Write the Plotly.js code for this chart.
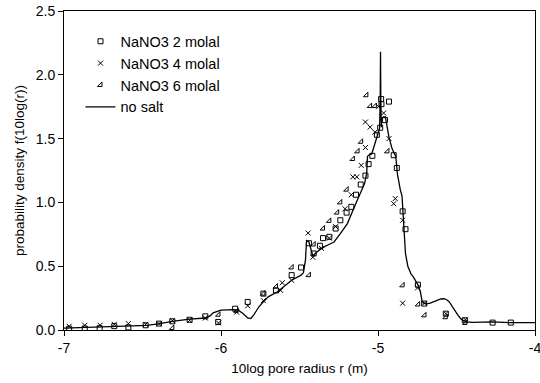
<!DOCTYPE html>
<html>
<head>
<meta charset="utf-8">
<script src="https://cdn.plot.ly/plotly-3.0.1.min.js"></script>
<style>html,body{margin:0;padding:0;background:#fff}#chart{width:540px;height:383px}</style>
</head>
<body>
<div id="chart"></div>
<script>
// no salt (continuous line)
const lineX = [-7.0,-6.9,-6.7,-6.5,-6.47,-6.39,-6.31,-6.2,-6.1,-6.07,-6.05,-6.0,-5.96,-5.92,-5.89,-5.86,-5.83,-5.81,-5.79,-5.76,-5.73,-5.70,-5.64,-5.59,-5.55,-5.49,-5.475,-5.462,-5.455,-5.44,-5.43,-5.415,-5.40,-5.37,-5.33,-5.28,-5.24,-5.195,-5.15,-5.107,-5.085,-5.072,-5.067,-5.06,-5.04,-5.02,-4.997,-4.99,-4.986,-4.984,-4.982,-4.979,-4.975,-4.965,-4.953,-4.94,-4.93,-4.91,-4.895,-4.887,-4.876,-4.865,-4.858,-4.847,-4.843,-4.836,-4.83,-4.825,-4.81,-4.79,-4.777,-4.744,-4.73,-4.72,-4.71,-4.69,-4.667,-4.64,-4.62,-4.6,-4.58,-4.56,-4.546,-4.52,-4.49,-4.47,-4.458,-4.43,-4.40,-4.27,-4.16,-4.0];
const lineY = [0.015,0.018,0.026,0.034,0.037,0.05,0.068,0.086,0.094,0.11,0.135,0.155,0.16,0.16,0.155,0.13,0.095,0.09,0.12,0.18,0.22,0.26,0.30,0.35,0.39,0.43,0.45,0.55,0.70,0.69,0.64,0.58,0.60,0.63,0.66,0.69,0.756,0.834,0.965,1.08,1.15,1.23,1.36,1.37,1.38,1.46,1.54,1.58,1.80,2.18,1.80,1.59,1.66,1.67,1.67,1.58,1.51,1.42,1.38,1.36,1.22,1.14,1.10,1.05,0.965,0.81,0.70,0.60,0.50,0.44,0.42,0.35,0.30,0.23,0.21,0.205,0.21,0.225,0.235,0.243,0.245,0.235,0.22,0.17,0.115,0.085,0.075,0.064,0.06,0.063,0.058,0.058];

// NaNO3 2 molal (squares)
const sq2X = [-6.967,-6.868,-6.773,-6.68,-6.59,-6.48,-6.395,-6.31,-6.2,-6.1,-6.018,-5.91,-5.83,-5.73,-5.65,-5.55,-5.49,-5.44,-5.41,-5.37,-5.35,-5.31,-5.27,-5.24,-5.20,-5.17,-5.14,-5.11,-5.08,-5.06,-5.036,-5.007,-4.986,-4.98,-4.978,-4.955,-4.93,-4.90,-4.88,-4.843,-4.825,-4.746,-4.706,-4.568,-4.447,-4.27,-4.154];
const sq2Y = [0.01,0.012,0.014,0.03,0.02,0.037,0.05,0.068,0.08,0.107,0.063,0.167,0.22,0.285,0.31,0.43,0.49,0.68,0.60,0.66,0.72,0.73,0.795,0.86,0.92,0.965,1.06,1.14,1.21,1.30,1.365,1.53,1.585,1.81,1.77,1.645,1.79,1.37,1.27,0.93,0.79,0.355,0.207,0.128,0.076,0.058,0.058];

// NaNO3 4 molal (crosses)
const x4X = [-6.967,-6.868,-6.77,-6.68,-6.59,-6.48,-6.395,-6.31,-6.2,-6.1,-6.016,-5.90,-5.83,-5.73,-5.62,-5.61,-5.55,-5.445,-5.415,-5.36,-5.31,-5.27,-5.21,-5.17,-5.16,-5.135,-5.107,-5.08,-5.08,-5.05,-5.02,-4.997,-4.964,-4.93,-4.90,-4.89,-4.843,-4.843,-4.748,-4.704,-4.568,-4.443];
const x4Y = [0.029,0.037,0.037,0.044,0.05,0.044,0.05,0.073,0.076,0.094,0.055,0.14,0.19,0.23,0.31,0.37,0.39,0.76,0.57,0.64,0.72,0.81,0.95,1.06,1.20,1.20,1.29,1.43,1.63,1.59,1.55,1.75,1.70,1.50,0.99,1.03,0.86,0.21,0.33,0.21,0.128,0.08];

// NaNO3 6 molal (triangles)
const t6X = [-6.31,-6.016,-5.90,-5.73,-5.65,-5.55,-5.44,-5.41,-5.35,-5.31,-5.26,-5.24,-5.20,-5.16,-5.13,-5.107,-5.074,-5.05,-5.02,-4.94,-4.843,-4.744,-4.704,-4.568,-4.443];
const t6Y = [0.016,0.12,0.15,0.285,0.34,0.49,0.43,0.67,0.795,0.855,0.92,1.0,1.10,1.34,1.40,1.475,1.84,1.755,1.755,1.40,0.35,0.20,0.115,0.10,0.055];

const legendNames = ['NaNO3 2 molal','NaNO3 4 molal','NaNO3 6 molal','no salt'];
const yTicks = [0,0.5,1.0,1.5,2.0,2.5];
const xTicks = [-7,-6,-5,-4];

const fam = 'Liberation Sans, Arial, sans-serif';
const tickFont = {family: fam, size: 14, color: '#000'};
const titleFont = {family: fam, size: 13.5, color: '#000'};
const legFont = {family: fam, size: 14.5, color: '#000'};

const traces = [
  {x: sq2X, y: sq2Y, name: legendNames[0], mode: 'markers', type: 'scatter',
   marker: {symbol: 'square-open', size: 5, color: '#000', line: {width: 1, color: '#000'}}},
  {x: x4X, y: x4Y, name: legendNames[1], mode: 'markers', type: 'scatter',
   marker: {symbol: 'x-thin-open', size: 5, color: '#000', line: {width: 1, color: '#000'}}},
  {x: t6X, y: t6Y, name: legendNames[2], mode: 'markers', type: 'scatter',
   marker: {symbol: 'triangle-se-open', size: 5, color: '#000', line: {width: 1, color: '#000'}}},
  {x: lineX, y: lineY, name: legendNames[3], mode: 'lines', type: 'scatter',
   line: {color: '#000', width: 1.3}}
];

const layout = {
  width: 540, height: 383,
  margin: {l: 64, r: 5, t: 11, b: 53},
  paper_bgcolor: '#fff', plot_bgcolor: '#fff',
  font: tickFont,
  showlegend: true,
  legend: {x: 0.035, y: 0.955, xanchor: 'left', yanchor: 'top', bgcolor: 'rgba(0,0,0,0)',
           font: legFont, tracegroupgap: 0, itemwidth: 30},
  xaxis: {range: [-7, -4], tickvals: xTicks, ticktext: xTicks.map(String),
          showgrid: false, zeroline: false, showline: true, linecolor: '#000', linewidth: 1,
          mirror: true, ticks: 'outside', ticklen: 5, tickcolor: '#000',
          tickfont: tickFont, ticklabeloverflow: 'allow',
          title: {text: '10log pore radius r (m)', font: titleFont, standoff: 8}},
  yaxis: {range: [0, 2.5], tickvals: yTicks, ticktext: yTicks.map(v => v.toFixed(1)),
          showgrid: false, zeroline: false, showline: true, linecolor: '#000', linewidth: 1,
          mirror: true, ticks: 'outside', ticklen: 5, tickcolor: '#000',
          tickfont: tickFont,
          title: {text: 'probability density f(10log(r))', font: titleFont, standoff: 8}}
};

Plotly.newPlot('chart', traces, layout, {displayModeBar: false, staticPlot: true});
</script>
</body>
</html>
